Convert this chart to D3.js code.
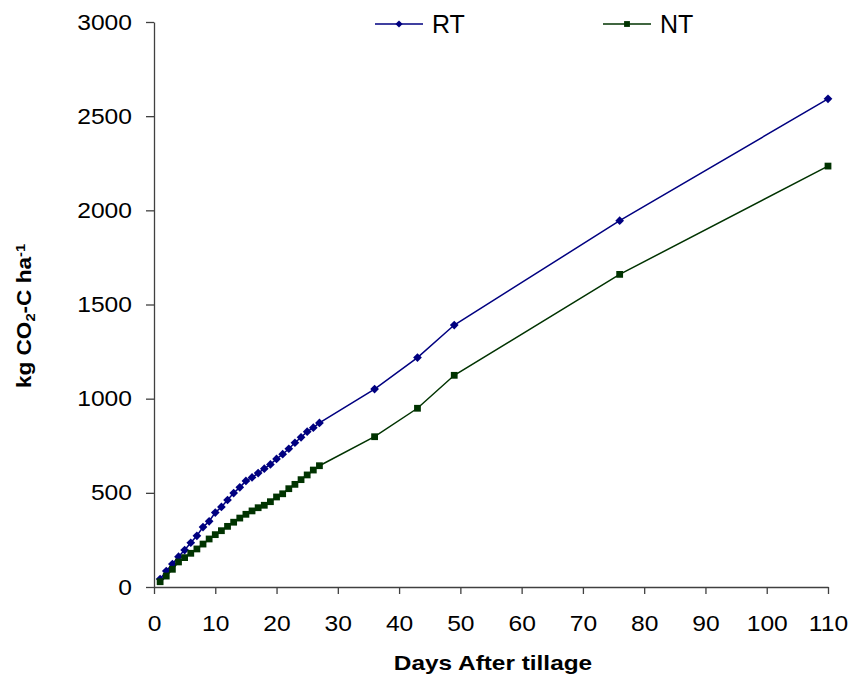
<!DOCTYPE html>
<html>
<head>
<meta charset="utf-8">
<script src="https://cdn.jsdelivr.net/npm/d3@7"></script>
<style>
  html, body { margin: 0; padding: 0; background: #fff; }
  svg { display: block; font-family: "Liberation Sans", Arial, sans-serif; }
</style>
</head>
<body>
<svg id="chart" width="855" height="677"></svg>
<script>
// ---- data ----
const days = [1,2,3,4,5,6,7,8,9,10,11,12,13,14,15,16,17,18,19,20,21,22,23,24,25,26,27,36,43,49,76,110];
const rtValues = [42,85,122,161,196,235,272,318,349,395,425,462,499,529,563,582,605,628,651,680,705,734,766,795,825,846,871,1051,1218,1391,1945,2592];
const ntValues = [28,58,94,133,156,179,202,228,255,278,299,322,344,366,386,404,421,434,453,478,495,522,545,570,595,621,644,798,949,1124,1660,2235];
const seriesNames = ["RT", "NT"];
const xTicks = [0,10,20,30,40,50,60,70,80,90,100,110];
const yTicks = [0,500,1000,1500,2000,2500,3000];
const xTitle = "Days After tillage";

// ---- layout ----
const svg = d3.select("#chart");
const mLeft = 154, mRight = 828, mTop = 22, mBottom = 587;
const x = d3.scaleLinear().domain([0, 110]).range([mLeft, mRight]);
const y = d3.scaleLinear().domain([0, 3000]).range([mBottom, mTop]);
const axisColor = "#404040";
const colors = { RT: "#000080", NT: "#003300" };

// axes
const yAxis = svg.append("g").attr("transform", `translate(${mLeft},0)`)
  .call(d3.axisLeft(y).tickValues(yTicks).tickSize(8).tickSizeOuter(0).tickPadding(14).tickFormat(d3.format("d")));
const xAxis = svg.append("g").attr("transform", `translate(0,${mBottom})`)
  .call(d3.axisBottom(x).tickValues(xTicks).tickSize(7).tickSizeOuter(0).tickPadding(21).tickFormat(d3.format("d")));

[xAxis, yAxis].forEach(a => {
  a.select(".domain").attr("stroke", axisColor).attr("stroke-width", 1.3);
  a.selectAll(".tick line").attr("stroke", axisColor).attr("stroke-width", 1.3);
  a.selectAll(".tick text").attr("fill", "#000")
    .style("font-family", "'Liberation Sans', Arial, sans-serif").style("font-size", "22px");
});
xAxis.selectAll(".tick text").attr("transform", "scale(1.12,1)");
yAxis.selectAll(".tick text").attr("x", -22 / 1.12).attr("transform", "scale(1.12,1)");

// titles
svg.append("text").attr("transform", `translate(${(mLeft + mRight) / 2 + 2},670) scale(1.22,1)`)
  .attr("text-anchor", "middle").style("font-weight", "bold").style("font-size", "20px")
  .text(xTitle);

const yt = svg.append("text").attr("transform", "translate(31,316) rotate(-90) scale(1.13,1)")
  .attr("text-anchor", "middle").style("font-weight", "bold").style("font-size", "20px");
yt.append("tspan").text("kg CO");
yt.append("tspan").attr("baseline-shift", "-25%").style("font-size", "13px").text("2");
yt.append("tspan").text("-C ha");
yt.append("tspan").attr("baseline-shift", "45%").style("font-size", "13px").text("-1");

// series
const series = [
  { name: "RT", values: rtValues },
  { name: "NT", values: ntValues }
];
const line = d3.line().x(d => x(d[0])).y(d => y(d[1]));
const diamond = d3.symbol().type(d3.symbolSquare).size(38);
const square = d3.symbol().type(d3.symbolSquare).size(46);

series.forEach(s => {
  const pts = days.map((d, i) => [d, s.values[i]]);
  const isRT = s.name === "RT";
  svg.append("path").datum(pts).attr("d", line)
    .attr("fill", "none").attr("stroke", colors[s.name]).attr("stroke-width", 1.5);
  svg.append("g").selectAll("path").data(pts).join("path")
    .attr("transform", d => `translate(${x(d[0])},${y(d[1])})` + (isRT ? " rotate(45)" : ""))
    .attr("d", isRT ? diamond : square)
    .attr("fill", colors[s.name]);
});

// legend
const legendItems = [
  { name: seriesNames[0], x0: 375 },
  { name: seriesNames[1], x0: 603 }
];
legendItems.forEach(it => {
  const g = svg.append("g");
  const isRT = it.name === "RT";
  g.append("line").attr("x1", it.x0).attr("x2", it.x0 + 48).attr("y1", 24).attr("y2", 24)
    .attr("stroke", colors[it.name]).attr("stroke-width", 1.5);
  g.append("path").attr("transform", `translate(${it.x0 + 24},24)` + (isRT ? " rotate(45)" : ""))
    .attr("d", d3.symbol().type(d3.symbolSquare).size(isRT ? 26 : 34)())
    .attr("fill", colors[it.name]);
  g.append("text").attr("x", it.x0 + 57).attr("y", 33).style("font-size", "25px").attr("fill", "#000").text(it.name);
});
</script>
</body>
</html>
